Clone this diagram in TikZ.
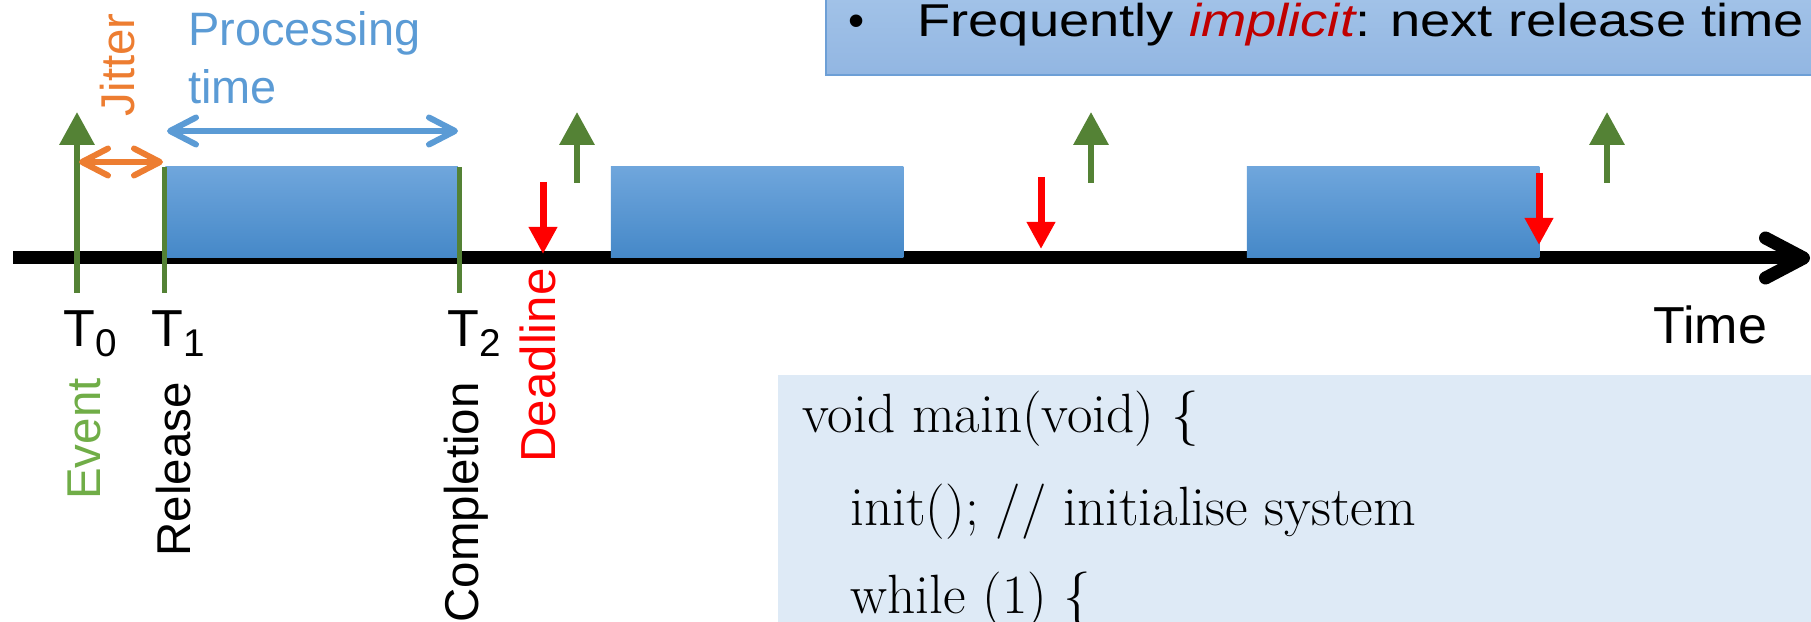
\documentclass[tikz,border=0pt]{standalone}
\usepackage{fontspec}
\setsansfont{Liberation Sans}
\usetikzlibrary{arrows.meta}

\definecolor{evgreen}{HTML}{548235}
\definecolor{evlabel}{HTML}{70AD47}
\definecolor{jitorange}{HTML}{ED7D31}
\definecolor{procblue}{HTML}{5B9BD5}
\definecolor{jobtop}{HTML}{6FA6DC}
\definecolor{jobbot}{HTML}{4588C8}
\definecolor{notetop}{HTML}{A5C5E9}
\definecolor{notebot}{HTML}{92B6E2}
\definecolor{noteline}{HTML}{6D9FD6}
\definecolor{codebg}{HTML}{DEEAF6}
\definecolor{implred}{HTML}{C00000}

% T with a lowered index
\newcommand{\tsub}[1]{T\raisebox{-5.5pt}{\fontsize{22pt}{22pt}\selectfont#1}}

\begin{document}
\begin{tikzpicture}[
  x=0.2mm, y=-0.2mm,
  job/.style={rectangle, minimum width=58.5mm, minimum height=18.2mm, inner sep=0pt, top color=jobtop, bottom color=jobbot},
  event/.style={evgreen, line width=1.3mm, -{Triangle[length=6.6mm, width=6.8mm]}},
  deadline/.style={red, line width=1.4mm, -{Triangle[length=5.4mm, width=5.4mm]}},
  edgeline/.style={evgreen, line width=1mm},
  span/.style={line width=1.2mm, line cap=round, {Straight Barb[length=5.2mm, width=5.4mm, round]}-{Straight Barb[length=5.2mm, width=5.4mm, round]}},
  lbl/.style={inner sep=0pt, font=\sffamily\fontsize{29.6pt}{34pt}\selectfont},
  vlbl/.style={inner sep=0pt, rotate=90, anchor=base east, font=\sffamily\fontsize{27pt}{32pt}\selectfont},
  code/.style={inner sep=0pt, anchor=base west, font=\rmfamily\fontsize{31.5pt}{36pt}\selectfont},
  font=\sffamily
]
\useasboundingbox (0,0) rectangle (1811,622);
\clip (0,0) rectangle (1811,622);

% note boxes
\path[top color=notetop, bottom color=notebot, draw=noteline, line width=0.4mm] (826,-20) rectangle (1840,75);
\path[fill=codebg] (778,375) rectangle (1840,650);

\node[anchor=base, inner sep=0pt, font=\sffamily\fontsize{26.2pt}{30pt}\selectfont] (bullet) at (857,37) {\textbullet};
\node[anchor=base west, inner sep=0pt, font=\sffamily\fontsize{26.2pt}{30pt}\selectfont] (implicit) at (917,37)
  {\scalebox{1.18}[1]{Frequently \textcolor{implred}{\itshape implicit}: next release time}};

\node[code] (line1) at (802,432) {void main(void) \{};
\node[code] (line2) at (850,525) {init(); // initialise system};
\node[code] (line3) at (850,613) {while (1) \{};

% time axis
\coordinate (t0) at (13,258);
\coordinate (tend) at (1810,258);
\draw[line width=2.6mm, -{Straight Barb[length=7.6mm, width=8mm, round]}] (t0) -- (tend);

% jobs
\node[job] (job1) at (311.5,212.5) {};
\node[job] (job2) at (757,212.5) {};
\node[job] (job3) at (1393,212.5) {};

\coordinate (rel) at (164,293);
\coordinate (comp) at (459,293);
\draw[edgeline] (rel) -- (rel |- job1.north);
\draw[edgeline] (comp) -- (comp |- job1.north);

% events and deadlines
\coordinate (ev0) at (77,293);
\draw[event] (ev0) -- ++(0,-181);
\foreach \x [count=\i] in {577,1091,1607} {
  \coordinate (ev\i) at (\x,183);
  \draw[event] (ev\i) -- ++(0,-71);
}
\foreach \x/\y [count=\i] in {543/182, 1041/177, 1539/173} {
  \coordinate (dl\i) at (\x,\y);
  \draw[deadline] (dl\i) -- ++(0,72);
}

\draw[span, jitorange] (79,162) -- (163,162);
\draw[span, procblue] (167,131) -- (458,131);

% labels
\node[lbl, anchor=base west] (lt0) at (63,347) {\tsub{0}};
\node[lbl, anchor=base west] (lt1) at (151,347) {\tsub{1}};
\node[lbl, anchor=base west] (lt2) at (447,347) {\tsub{2}};
\node[lbl, anchor=base west] (time) at (1653,344) {Time};

\node[vlbl, evlabel] (evtxt) at (100,378) {Event};
\node[vlbl] (reltxt) at (190,382) {Release};
\node[vlbl] (comptxt) at (478,382) {Completion};
\node[vlbl, red, font=\sffamily\fontsize{28pt}{32pt}\selectfont] (dltxt) at (555,268) {Deadline};
\node[vlbl, jitorange] (jittxt) at (134,13) {Jitter};

\node[inner sep=0pt, anchor=north west, align=left, procblue, font=\sffamily\fontsize{26.7pt}{33pt}\selectfont] (proctxt) at (188,11) {Processing\\time};
\end{tikzpicture}
\end{document}
